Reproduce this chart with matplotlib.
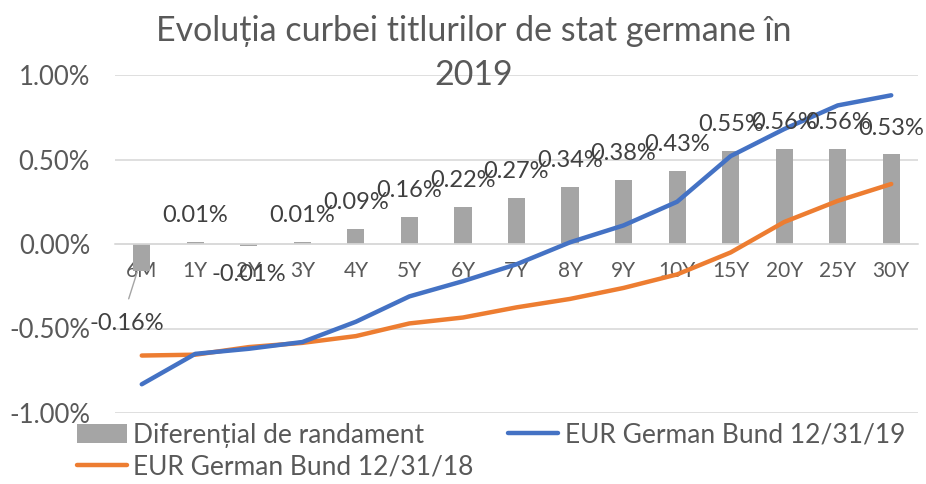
import matplotlib
matplotlib.use("Agg")
import matplotlib.pyplot as plt
import numpy as np

plt.rcParams['font.family'] = ['Lato', 'DejaVu Sans']

categories = ["6M", "1Y", "2Y", "3Y", "4Y", "5Y", "6Y", "7Y", "8Y", "9Y", "10Y", "15Y", "20Y", "25Y", "30Y"]
spread = [-0.16, 0.01, -0.01, 0.01, 0.09, 0.16, 0.22, 0.27, 0.34, 0.38, 0.43, 0.55, 0.56, 0.56, 0.53]
bund_19 = [-0.83, -0.65, -0.62, -0.58, -0.46, -0.31, -0.22, -0.12, 0.01, 0.11, 0.25, 0.52, 0.68, 0.82, 0.88]
bund_18 = [-0.66, -0.655, -0.61, -0.585, -0.545, -0.47, -0.435, -0.375, -0.325, -0.26, -0.18, -0.05, 0.13, 0.255, 0.355]

grey_txt = "#595959"
W, H = 926, 484
fig = plt.figure(figsize=(W / 100, H / 100), dpi=100)
ax = fig.add_axes([115 / W, 1 - 413 / H, (918 - 115) / W, (413 - 75) / H])

x = np.arange(len(categories))
bars = ax.bar(x, spread, width=0.32, color="#A5A5A5", zorder=2, label="Diferențial de randament")
l18, = ax.plot(x, bund_18, color="#ED7D31", lw=3.2, solid_capstyle="round", zorder=3,
               label="EUR German Bund 12/31/18")
l19, = ax.plot(x, bund_19, color="#4472C4", lw=3.2, solid_capstyle="round", zorder=4,
               label="EUR German Bund 12/31/19")

ax.set_xlim(-0.5, len(categories) - 0.5)
ax.set_ylim(-1.0, 1.0)
ax.set_yticks([-1.0, -0.5, 0.0, 0.5, 1.0])
ax.set_yticklabels([f"{v:.2f}%" for v in [-1.0, -0.5, 0.0, 0.5, 1.0]])
ax.yaxis.grid(True, color="#D9D9D9", lw=1.2, zorder=0)
ax.set_axisbelow(True)
for s in ["top", "right", "left"]:
    ax.spines[s].set_visible(False)
ax.spines["bottom"].set_position(("data", 0))
ax.spines["bottom"].set_color("#D9D9D9")
ax.spines["bottom"].set_linewidth(1.2)
ax.tick_params(axis="y", length=0, pad=18, labelsize=18.5, labelcolor=grey_txt)
ax.tick_params(axis="x", length=0, pad=12, labelsize=15, labelcolor=grey_txt)
ax.set_xticks(x)
ax.set_xticklabels(categories)

# data labels for the spread bars
for xi, v in zip(x, spread):
    lab = f"{v:.2f}%"
    if v >= 0:
        ax.annotate(lab, (xi, v), xytext=(0, 19), textcoords="offset points",
                    ha="center", va="center", fontsize=17, color="#404040", zorder=5)
    elif v > -0.05:
        ax.annotate(lab, (xi, v), xytext=(0, -21), textcoords="offset points",
                    ha="center", va="center", fontsize=17, color="#404040", zorder=5)
    else:
        ax.annotate(lab, (xi, v), xytext=(-11, -38), textcoords="offset points",
                    ha="center", va="center", fontsize=17, color="#404040", zorder=5)
        ax.annotate("", (xi - 0.07, v + 0.01), xytext=(xi - 0.26, v - 0.18),
                    arrowprops=dict(arrowstyle="-", color="#A5A5A5", lw=1))

fig.text(474 / W, 1 - 31 / H, "Evoluția curbei titlurilor de stat germane în",
         ha="center", va="center", fontsize=24.5, color=grey_txt)
fig.text(474 / W, 1 - 75 / H, "2019",
         ha="center", va="center", fontsize=24.5, color=grey_txt)

fig.legend(handles=[bars, l18, l19], loc="upper left", bbox_to_anchor=(66 / W, 1 - 412 / H),
           ncol=2, frameon=False, fontsize=19, labelcolor=grey_txt, handlelength=1.9,
           handletextpad=0.25, columnspacing=1.3, borderaxespad=0, labelspacing=0.25)

fig.savefig("out.png", dpi=100)
